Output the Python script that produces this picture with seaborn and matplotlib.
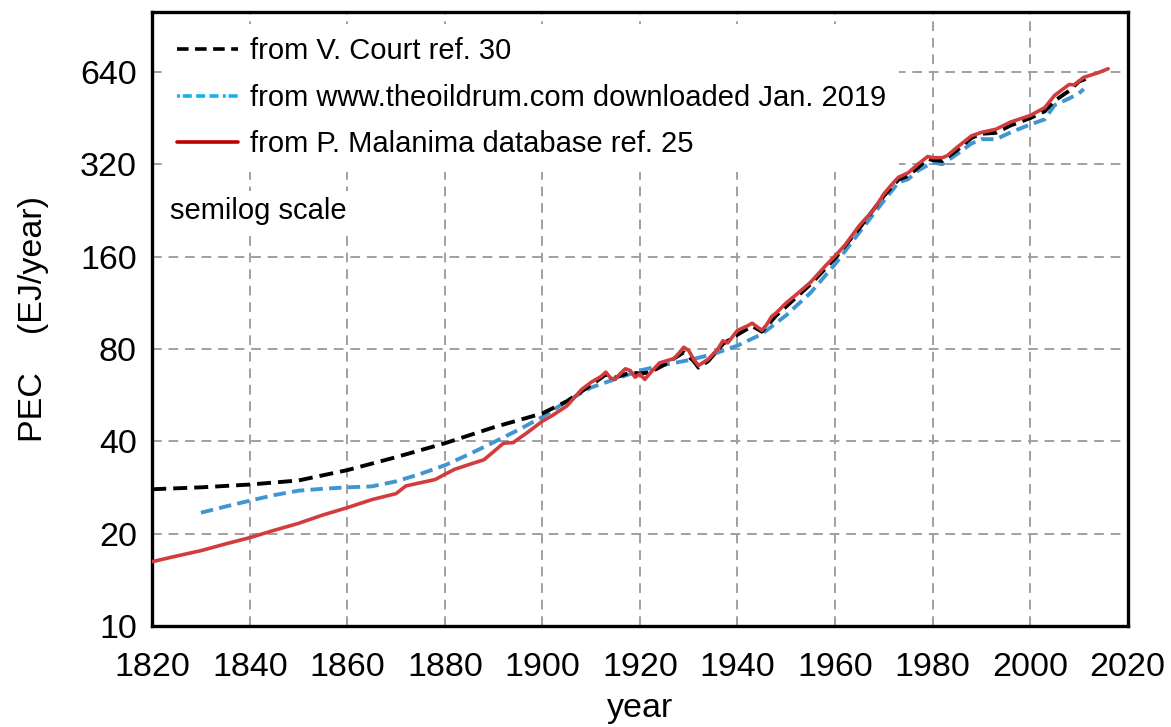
import numpy as np
import pandas as pd
import matplotlib
matplotlib.use("Agg")
import matplotlib.pyplot as plt
from matplotlib.lines import Line2D
import seaborn as sns

# Malanima database (red)
malanima_years = [1820, 1825, 1830, 1835, 1840, 1845, 1850, 1855, 1860, 1865, 1870, 1872, 1875, 1878,
                  1880, 1882, 1885, 1888, 1890, 1892, 1894, 1897, 1900, 1902, 1905, 1908, 1910, 1912,
                  1913, 1914, 1915, 1916, 1917, 1918, 1919, 1920, 1921, 1922, 1924, 1926, 1927, 1928,
                  1929, 1930, 1931, 1932, 1934, 1936, 1937, 1938, 1940, 1942, 1943, 1945, 1946, 1947,
                  1948, 1950, 1952, 1955, 1958, 1960, 1962, 1965, 1968, 1970, 1972, 1973, 1975, 1977,
                  1979, 1980, 1982, 1983, 1985, 1988, 1990, 1993, 1996, 2000, 2003, 2005, 2008, 2009,
                  2011, 2014, 2016]
malanima_pec = [16.2, 16.9, 17.6, 18.5, 19.4, 20.5, 21.6, 23.0, 24.3, 25.8, 27.0, 28.6, 29.3, 30.0,
                31.2, 32.4, 33.6, 34.8, 37.0, 39.4, 39.6, 42.8, 46.5, 48.5, 52.1, 58.9, 62.3, 65.0,
                67.2, 64.2, 63.8, 66.5, 68.9, 68.0, 64.7, 66.3, 63.6, 66.5, 72.0, 73.6, 74.4, 77.5,
                81.0, 79.0, 74.0, 70.6, 74.0, 80.0, 85.0, 83.7, 91.9, 95.0, 97.0, 92.0, 96.0, 102,
                105, 113, 120, 132, 149, 160.7, 174, 202, 228, 256, 279, 290, 300, 320,
                339, 336, 336, 341, 363, 396, 406, 416, 439, 461, 489, 536, 582, 580,
                614, 636, 655]

# V. Court (black dashed)
court_years = [1820, 1830, 1840, 1850, 1860, 1870, 1880, 1890, 1900, 1905, 1910, 1913, 1915, 1918,
               1920, 1922, 1925, 1929, 1931, 1932, 1934, 1937, 1940, 1943, 1945, 1948, 1950, 1955,
               1960, 1965, 1970, 1973, 1975, 1977, 1979, 1980, 1982, 1985, 1988, 1990, 1993, 1996,
               2000, 2003, 2005, 2008, 2010, 2012]
court_pec = [27.9, 28.3, 28.9, 29.8, 32.2, 35.5, 39.4, 44.4, 49.3, 54, 61, 66, 64.5, 67,
             66.5, 67, 71, 78, 73, 69.5, 73, 83, 89, 95, 91, 103, 110, 130,
             158, 198, 252, 285, 293, 312, 333, 330, 328, 355, 390, 402, 405, 428,
             452, 476, 515, 555, 595, 612]

# theoildrum.com (blue dashed)
oildrum_years = [1830, 1835, 1840, 1845, 1850, 1855, 1860, 1865, 1870, 1875, 1880, 1885, 1890, 1895,
                 1900, 1905, 1910, 1915, 1920, 1925, 1930, 1935, 1940, 1945, 1950, 1955, 1960, 1965,
                 1970, 1973, 1975, 1977, 1980, 1982, 1985, 1988, 1990, 1993, 1996, 2000, 2003, 2005,
                 2008, 2010, 2011]
oildrum_pec = [23.4, 24.5, 25.6, 26.7, 27.6, 28.0, 28.3, 28.5, 29.6, 31.3, 33.4, 36.3, 39.7, 43.5,
               48.0, 54, 59.9, 63.8, 68, 71, 73.5, 76.9, 82, 89.4, 103, 122, 151, 192,
               243, 279, 286, 305, 324, 320, 345, 374, 386, 386, 406, 431, 448, 498,
               524, 545, 562]

y_ticks = [10, 20, 40, 80, 160, 320, 640]
x_ticks = list(range(1820, 2021, 20))

sns.set_style("white")
plt.rcParams['font.family'] = ['Liberation Sans', 'DejaVu Sans']
plt.rcParams['text.color'] = 'black'
plt.rcParams['axes.labelcolor'] = 'black'
plt.rcParams['xtick.color'] = 'black'
plt.rcParams['ytick.color'] = 'black'

fig, ax = plt.subplots(figsize=(11.71, 7.27), dpi=100)
fig.subplots_adjust(left=0.130, right=0.963, top=0.983, bottom=0.139)

sns.lineplot(x=oildrum_years, y=oildrum_pec, ax=ax, color='#4196d2', lw=2.8, zorder=3)
ax.lines[-1].set_dashes((3.2, 1.6))
sns.lineplot(x=court_years, y=court_pec, ax=ax, color='black', lw=2.8, zorder=4)
ax.lines[-1].set_dashes((3.6, 1.8))
sns.lineplot(x=malanima_years, y=malanima_pec, ax=ax, color='#d23c3c', lw=2.6, zorder=5)

ax.set_yscale('log')
ax.set_ylim(10, 1000)
ax.set_xlim(1820, 2020)
ax.set_yticks(y_ticks)
ax.set_yticklabels([str(v) for v in y_ticks])
ax.yaxis.set_minor_locator(matplotlib.ticker.NullLocator())
ax.set_xticks(x_ticks)

ax.grid(True, color='#a0a0a0', linestyle=(0, (5, 3.5)), lw=1.4, zorder=0)
ax.set_axisbelow(True)
for s in ax.spines.values():
    s.set_color('black')
    s.set_linewidth(2.4)

ax.tick_params(axis='x', length=0, pad=19, labelsize=24.5)
ax.tick_params(axis='y', length=0, pad=11, labelsize=24.5)
ax.set_xlabel('year', fontsize=24.5, labelpad=7)
ax.set_ylabel('PEC    (EJ/year)', fontsize=24.5, labelpad=22)

handles = [
    Line2D([], [], color='black', lw=2.6, dashes=(3.2, 1.8)),
    Line2D([], [], color='#17b0ef', lw=2.6, dashes=(0.8, 0.8, 2.5, 1.2, 2.5, 1.2, 2.5, 1.2)),
    Line2D([], [], color='#c00000', lw=2.6),
]
labels = ['from V. Court ref. 30',
          'from www.theoildrum.com downloaded Jan. 2019',
          'from P. Malanima database ref. 25']
leg = ax.legend(handles, labels, loc='upper left', fontsize=21, frameon=True,
                handlelength=2.1, handletextpad=0.4, labelspacing=0.64,
                borderpad=0.45, borderaxespad=0.4)
leg.get_frame().set_facecolor('white')
leg.get_frame().set_edgecolor('none')
leg.get_frame().set_alpha(1)
leg.set_zorder(6)

ax.text(0.018, 0.677, 'semilog scale', transform=ax.transAxes, fontsize=21,
        va='center', ha='left', zorder=6,
        bbox=dict(facecolor='white', edgecolor='none', pad=4))

fig.savefig('out.png', dpi=100)
